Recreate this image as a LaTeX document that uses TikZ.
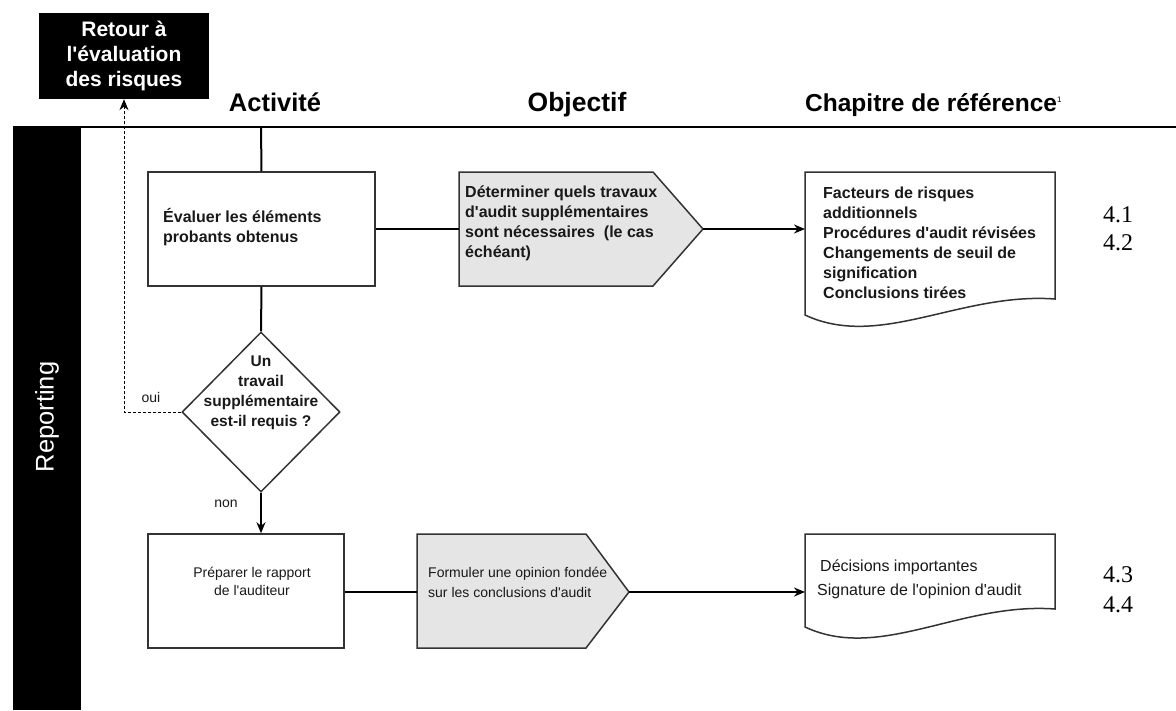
\documentclass[tikz,border=0pt]{standalone}
\usepackage{fontspec}
\setmainfont{Liberation Sans}
\newfontfamily\numfont{Liberation Serif}
\usetikzlibrary{arrows.meta,shapes.geometric}
% straight apostrophe, as printed in the chart
\newcommand{\ap}{\textquotesingle}
\begin{document}
\begin{tikzpicture}[x=1pt,y=-1pt,
  conn/.style={line width=2pt, black},
  arr/.style={conn, -{Stealth[length=11pt,width=9pt]}},
  backarr/.style={line width=1pt, black, dash pattern=on 3pt off 2pt, -{Stealth[length=11pt,width=9pt]}},
  stepbox/.style={draw=black!80, line width=1.5pt, fill=white, rectangle, inner sep=0pt},
  decision/.style={draw=black!80, line width=1.5pt, fill=white, diamond, aspect=1, inner sep=0pt},
  objshape/.style={draw=black!80, line width=1.5pt, fill=black!10},
  docshape/.style={draw=black!80, line width=1.5pt, fill=white},
  boldtxt/.style={font=\fontsize{16}{20}\selectfont\bfseries, align=left, inner sep=0pt, text=black!90},
  plaintxt/.style={font=\fontsize{14}{18}\selectfont, align=left, inner sep=0pt, text=black!90},
  heading/.style={font=\fontsize{25.5}{28}\selectfont\bfseries, inner sep=0pt, anchor=base},
  chapnum/.style={font=\numfont\fontsize{24}{28}\selectfont, align=left, inner sep=0pt}
]
\useasboundingbox (0,0) rectangle (1176,710);
\fill[white] (0,0) rectangle (1176,710);

% lane strip and header rule
\fill[black] (13,127) rectangle (81,710);
\node[rotate=90, text=white, font=\fontsize{25.5}{28}\selectfont, inner sep=0pt] (lane) at (47,417) {Reporting};
\draw[line width=2pt] (13,127) -- (1176,127);
\coordinate (hdr) at (261,127);

% return target
\node[fill=black, minimum width=170pt, minimum height=86pt, inner sep=0pt, text=white,
      font=\fontsize{21}{25}\selectfont\bfseries, align=center] (ret) at (124,56)
      {Retour à\\l\ap évaluation\\des risques};

% column headings
\node[heading] (hact) at (275,111) {Activité};
\node[heading, font=\fontsize{26.5}{28}\selectfont\bfseries] (hobj) at (577,111) {Objectif};
\node[heading, anchor=base west, font=\fontsize{24.5}{28}\selectfont\bfseries] (hchap) at (805,111)
  {Chapitre de référence\raisebox{9pt}{\fontsize{8}{8}\selectfont\mdseries 1}};

% first row
\node[stepbox, minimum width=227pt, minimum height=114pt] (b1) at (261.5,229) {};
\node[boldtxt, anchor=west] (b1t) at (163,227) {Évaluer les éléments\\probants obtenus};

\draw[objshape] (459,172) -- (653,172) -- (703,229) -- (653,286) -- (459,286) -- cycle;
\coordinate (p1in) at (459,229);
\coordinate (p1out) at (703,229);
\node[boldtxt, anchor=west] (p1t) at (465,223)
  {Déterminer quels travaux\\d\ap audit supplémentaires\\sont nécessaires~ (le cas\\échéant)};

\draw[docshape] (805,172) -- (1055,172) -- (1055,299)
  .. controls (960,292) and (880,350) .. (805,315) -- cycle;
\coordinate (d1in) at (805,229);
\node[boldtxt, anchor=west] (d1t) at (823,243)
  {Facteurs de risques\\additionnels\\Procédures d\ap audit révisées\\Changements de seuil de\\signification\\Conclusions tirées};
\node[chapnum] (n1) at (1118,229) {4.1\\4.2};

% decision
\node[decision, minimum width=158pt, minimum height=160pt] (dia) at (261,412) {};
\node[font=\fontsize{15.5}{20}\selectfont\bfseries, align=center, inner sep=0pt, text=black!90] (diat) at (261,393)
  {Un\\travail\\supplémentaire\\est-il requis ?};
\node[plaintxt] (oui) at (151,397) {oui};
\node[plaintxt] (non) at (226,504) {non};

% second row
\node[stepbox, minimum width=196pt, minimum height=114pt] (b2) at (246,591) {};
\node[plaintxt, align=center] (b2t) at (252,581) {Préparer le rapport\\de l\ap auditeur};

\draw[objshape] (417,534) -- (586,534) -- (629,592) -- (586,648) -- (417,648) -- cycle;
\coordinate (p2in) at (417,592);
\coordinate (p2out) at (629,592);
\node[plaintxt, anchor=west, font=\fontsize{14}{20}\selectfont] (p2t) at (428,582)
  {Formuler une opinion fondée\\sur les conclusions d\ap audit};

\draw[docshape] (805,534) -- (1055,534) -- (1055,609)
  .. controls (960,602) and (880,662) .. (805,627) -- cycle;
\coordinate (d2in) at (805,592);
\node[plaintxt, anchor=west, font=\fontsize{16}{24}\selectfont] (d2t) at (817,579)
  {\hspace*{3pt}Décisions importantes\\Signature de l\ap opinion d\ap audit};
\node[chapnum, font=\numfont\fontsize{24}{30}\selectfont] (n2) at (1118,590) {4.3\\4.4};

% connectors
\draw[conn] (hdr) -- (b1.north);
\draw[conn] (b1.east) -- (p1in);
\draw[arr] (p1out) -- (d1in);
\draw[conn] (b1.south) -- (dia.north);
\draw[arr] (dia.south) -- (dia.south |- b2.north);
\draw[backarr] (dia.west) -| (ret.south);
\draw[conn] (b2.east |- p2in) -- (p2in);
\draw[arr] (p2out) -- (d2in);
\end{tikzpicture}
\end{document}
